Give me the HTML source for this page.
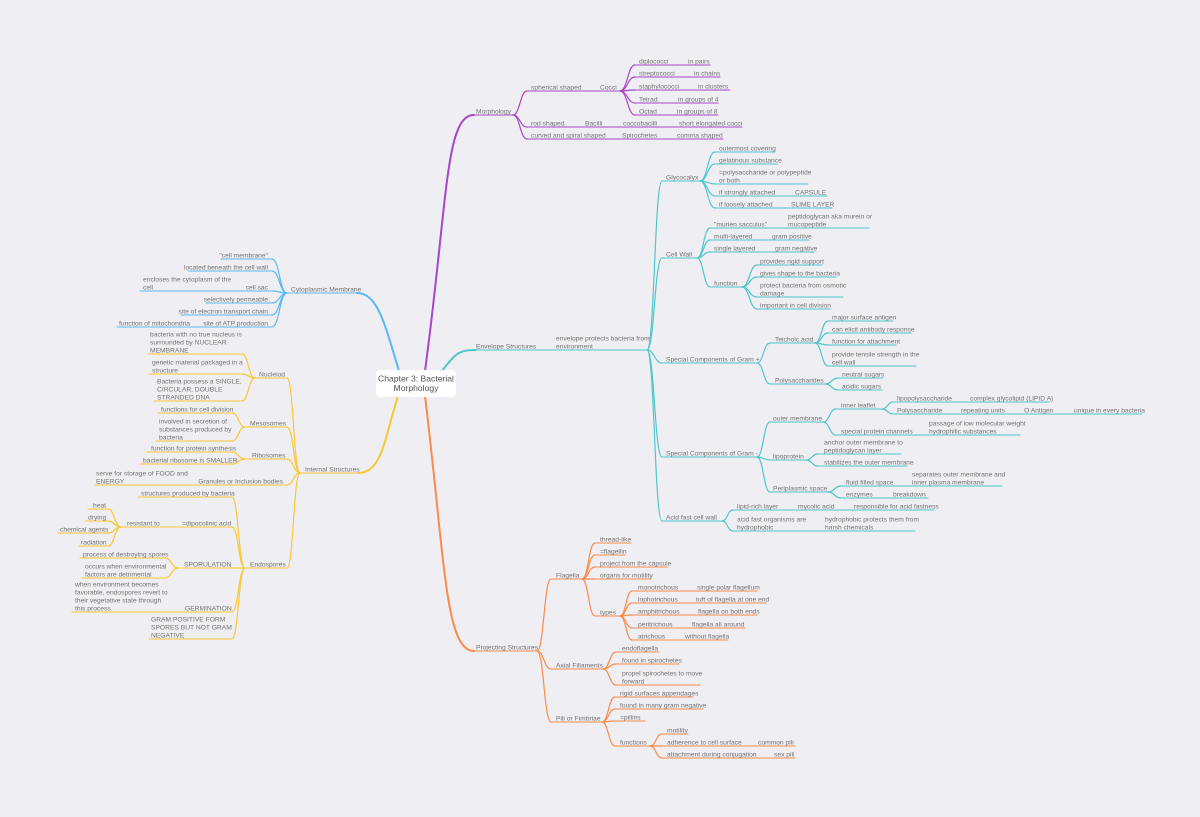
<!DOCTYPE html>
<html><head><meta charset="utf-8"><style>
html,body{margin:0;padding:0;background:#efeef3;}
svg{display:block}
text{font-family:"Liberation Sans",sans-serif;font-size:6.7px;fill:#737373}
.e{text-anchor:end}
</style></head><body>
<svg id="s" width="1200" height="817" viewBox="0 0 1200 817" xmlns="http://www.w3.org/2000/svg">
<rect width="1200" height="817" fill="#efeef3"/>
<g id="lines" fill="none" stroke-linecap="round"></g>
<rect x="376" y="370" width="80" height="27" rx="4" fill="#fff"/>
<text x="416" y="381.5" text-anchor="middle" style="font-size:8.6px;fill:#555">Chapter 3: Bacterial</text>
<text x="416" y="391" text-anchor="middle" style="font-size:8.6px;fill:#555">Morphology</text>
<g>
<!-- purple -->
<text x="476" y="113.5">Morphology</text>
<text x="531" y="89.5">spherical shaped</text><text x="600" y="89.5">Cocci</text>
<text x="639" y="63.5">diplococci</text><text x="688" y="63.5">in pairs</text>
<text x="639" y="75.5">streptococci</text><text x="694" y="75.5">in chains</text>
<text x="639" y="88.5">staphylococci</text><text x="698" y="88.5">in clusters</text>
<text x="639" y="101.5">Tetrad</text><text x="678" y="101.5">in groups of 4</text>
<text x="639" y="113.5">Octad</text><text x="677" y="113.5">in groups of 8</text>
<text x="531" y="125.5">rod shaped</text><text x="585" y="125.5">Bacilli</text><text x="623" y="125.5">coccobacilli</text><text x="679" y="125.5">short elongated cocci</text>
<text x="531" y="137.5">curved and spiral shaped</text><text x="622" y="137.5">Spirochetes</text><text x="677" y="137.5">comma shaped</text>
<!-- teal -->
<text x="476" y="348.5">Envelope Structures</text>
<text x="556" y="340.5">envelope protects bacteria from</text><text x="556" y="348.5">environment</text>
<text x="666" y="179.5">Glycocalyx</text>
<text x="719" y="150.5">outermost covering</text>
<text x="719" y="162.5">gelatinous substance</text>
<text x="719" y="174.5">=polysaccharide or polypeptide</text><text x="719" y="182.5">or both</text>
<text x="719" y="194.5">if strongly attached</text><text x="795" y="194.5">CAPSULE</text>
<text x="719" y="206.5">if loosely attached</text><text x="791" y="206.5">SLIME LAYER</text>
<text x="666" y="256.5">Cell Wall</text>
<text x="714" y="226.5">"murien sacculus"</text><text x="788" y="218.5">peptidoglycan aka murein or</text><text x="788" y="226.5">mucopeptide</text>
<text x="714" y="238.5">multi-layered</text><text x="772" y="238.5">gram positive</text>
<text x="714" y="250.5">single layered</text><text x="775" y="250.5">gram negative</text>
<text x="714" y="285.5">function</text>
<text x="760" y="263.5">provides rigid support</text>
<text x="760" y="275.5">gives shape to the bacteria</text>
<text x="760" y="287.5">protect bacteria from osmotic</text><text x="760" y="295.5">damage</text>
<text x="760" y="307.5">important in cell division</text>
<text x="666" y="361.5">Special Components of Gram +</text>
<text x="775" y="341.5">Teichoic acid</text>
<text x="832" y="319.5">major surface antigen</text>
<text x="832" y="331.5">can elicit antibody response</text>
<text x="832" y="343.5">function for attachment</text>
<text x="832" y="356.5">provide tensile strength in the</text><text x="832" y="364.5">cell wall</text>
<text x="775" y="382.5">Polysaccharides</text>
<text x="842" y="376.5">neutral sugars</text>
<text x="842" y="388.5">acidic sugars</text>
<text x="666" y="455.5">Special Components of Gram -</text>
<text x="773" y="420.5">outer membrane</text>
<text x="841" y="407.5">inner leaflet</text>
<text x="897" y="400.5">lipopolysaccharide</text><text x="970" y="400.5">complex glycolipid (LIPID A)</text>
<text x="897" y="412.5">Polysaccharide</text><text x="961" y="412.5">repeating units</text><text x="1024" y="412.5">O Antigen</text><text x="1074" y="412.5">unique in every bacteria</text>
<text x="841" y="433.5">special protein channels</text><text x="929" y="425.5">passage of low molecular weight</text><text x="929" y="433.5">hydrophilic substances</text>
<text x="773" y="458.5">lipoprotein</text>
<text x="824" y="444.5">anchor outer membrane to</text><text x="824" y="452.5">peptidoglycan layer</text>
<text x="824" y="464.5">stabilizes the outer membrane</text>
<text x="773" y="490.5">Periplasmic space</text>
<text x="846" y="484.5">fluid filled space</text><text x="912" y="476.5">separates outer membrane and</text><text x="912" y="484.5">inner plasma membrane</text>
<text x="846" y="496.5">enzymes</text><text x="893" y="496.5">breakdown</text>
<text x="666" y="519.5">Acid fast cell wall</text>
<text x="737" y="508.5">lipid-rich layer</text><text x="798" y="508.5">mycolic acid</text><text x="854" y="508.5">responsible for acid fastness</text>
<text x="737" y="521.5">acid fast organisms are</text><text x="737" y="529.5">hydrophobic</text><text x="825" y="521.5">hydrophobic protects them from</text><text x="825" y="529.5">harsh chemicals</text>
<!-- orange -->
<text x="476" y="649.5">Projecting Structures</text>
<text x="556" y="577.5">Flagella</text>
<text x="600" y="541.5">thread-like</text>
<text x="600" y="553.5">=flagellin</text>
<text x="600" y="565.5">project from the capsule</text>
<text x="600" y="577.5">organs for motility</text>
<text x="600" y="614.5">types</text>
<text x="638" y="589.5">monotrichous</text><text x="697" y="589.5">single polar flagellum</text>
<text x="638" y="601.5">lophotrichous</text><text x="696" y="601.5">tuft of flagella at one end</text>
<text x="638" y="613.5">amphitrichous</text><text x="698" y="613.5">flagella on both ends</text>
<text x="638" y="626.5">peritrichous</text><text x="692" y="626.5">flagella all around</text>
<text x="638" y="638.5">atrichous</text><text x="685" y="638.5">without flagella</text>
<text x="556" y="667.5">Axial Fillaments</text>
<text x="622" y="650.5">endoflagella</text>
<text x="622" y="662.5">found in spirochetes</text>
<text x="622" y="675.5">propel spirochetes to move</text><text x="622" y="683.5">forward</text>
<text x="556" y="720.5">Pili or Fimbriae</text>
<text x="620" y="695.5">rigid surfaces appendages</text>
<text x="620" y="707.5">found in many gram negative</text>
<text x="620" y="719.5">=pillins</text>
<text x="620" y="744.5">functions</text>
<text x="667" y="732.5">motility</text>
<text x="667" y="744.5">adherence to cell surface</text><text x="758" y="744.5">common pili</text>
<text x="667" y="756.5">attachment during conjugation</text><text x="774" y="756.5">sex pili</text>
<!-- blue -->
<text x="291" y="291.5">Cytoplasmic Membrane</text>
<text class="e" x="268" y="257.5">"cell membrane"</text>
<text class="e" x="268" y="269.5">located beneath the cell wall</text>
<text x="143" y="281.5">encloses the cytoplasm of the</text><text x="143" y="289.5">cell</text><text class="e" x="268" y="289.5">cell sac</text>
<text class="e" x="268" y="301.5">selectively permeable</text>
<text class="e" x="268" y="313.5">site of electron transport chain</text>
<text x="119" y="325.5">function of mitochondria</text><text class="e" x="268" y="325.5">site of ATP production</text>
<!-- yellow -->
<text x="305" y="471.5">Internal Structures</text>
<text x="259" y="376.5">Nucleiod</text>
<text x="150" y="336.5">bacteria with no true nucleus is</text><text x="150" y="344.5">surrounded by NUCLEAR</text><text x="150" y="352.5">MEMBRANE</text>
<text x="152" y="364.5">genetic material packaged in a</text><text x="152" y="372.5">structure</text>
<text x="157" y="383.5">Bacteria possess a SINGLE,</text><text x="157" y="391.5">CIRCULAR, DOUBLE</text><text x="157" y="399.5">STRANDED DNA</text>
<text x="250" y="425.5">Mesosomes</text>
<text x="161" y="411.5">functions for cell division</text>
<text x="159" y="423.5">involved in secretion of</text><text x="159" y="431.5">substances produced by</text><text x="159" y="439.5">bacteria</text>
<text x="252" y="457.5">Ribosomes</text>
<text x="151" y="450.5">function for protein synthesis</text>
<text x="143" y="462.5">bacterial ribosome is SMALLER</text>
<text x="96" y="475.5">serve for storage of FOOD and</text><text x="96" y="483.5">ENERGY</text><text class="e" x="283" y="483.5">Granules or Inclusion bodies</text>
<text x="250" y="566.5">Endospores</text>
<text x="141" y="495.5">structures produced by bacteria</text>
<text x="127" y="525.5">resistant to</text><text x="182" y="525.5">=dipocolinic acid</text>
<text x="93" y="507.5">heat</text>
<text x="88" y="519.5">drying</text>
<text x="60" y="531.5">chemical agents</text>
<text x="81" y="544.5">radiation</text>
<text x="184" y="566.5">SPORULATION</text>
<text x="83" y="556.5">process of destroying spores</text>
<text x="85" y="568.5">occurs when environmental</text><text x="85" y="576.5">factors are detrimental</text>
<text x="75" y="586.5">when environment becomes</text><text x="75" y="594.5">favorable, endospores revert to</text><text x="75" y="602.5">their vegetative state through</text><text x="75" y="610.5">this process</text><text x="185" y="610.5">GERMINATION</text>
<text x="151" y="621.5">GRAM POSITIVE FORM</text><text x="151" y="629.5">SPORES BUT NOT GRAM</text><text x="151" y="637.5">NEGATIVE</text>
</g>
</svg>
<script>
var g=document.getElementById('lines'),NS='http://www.w3.org/2000/svg';
function P(d,c,w){var p=document.createElementNS(NS,'path');p.setAttribute('d',d);p.setAttribute('stroke',c);p.setAttribute('stroke-width',w);g.appendChild(p);}
function U(x1,x2,y,c){P('M'+x1+' '+y+'H'+x2,c,1.1);}
function C(xa,ya,xb,yb,c,w){var m=xa+(xb-xa)*0.5;P('M'+xa+' '+ya+'C'+m+' '+ya+' '+m+' '+yb+' '+xb+' '+yb,c,w||1.2);}
function R(hx,hy,sx,list,c){list.forEach(function(a){C(hx,hy,sx,a[0],c);U(sx,a[1],a[0],c);});}
function L(hx,hy,ex,list,c){list.forEach(function(a){C(hx,hy,ex,a[0],c);U(a[1],ex,a[0],c);});}
var Pu='#a845c9',T='#4fc7cc',O='#f98c4a',B='#5bb9f5',Y='#fac733';
P('M425 371C448 200 445 115 474 115',Pu,2);U(474,513,115,Pu);
R(513,115,527,[[91,620],[127,742],[139,723]],Pu);
R(620,91,635,[[65,710],[77,720],[90,730],[103,718],[115,718]],Pu);
P('M442 371C456 352 460 350 476 350',T,2);U(474,647,350,T);
R(647,350,662,[[181,700],[258,697],[363,757],[457,757],[521,722]],T);
R(700,181,715,[[152,775],[164,777],[184,808],[196,827],[208,832]],T);
R(697,258,710,[[228,869],[240,809],[252,814],[287,742]],T);
R(742,287,757,[[265,822],[277,836],[297,843],[309,830]],T);
R(757,363,770,[[343,815],[384,825]],T);
R(815,343,828,[[321,893],[333,911],[345,896],[366,916]],T);
R(825,384,838,[[378,883],[390,882]],T);
R(757,457,770,[[422,823],[460,806],[492,828]],T);
R(823,422,836,[[409,882],[435,1020]],T);
R(882,409,893,[[402,1049],[414,1142]],T);
R(806,460,818,[[454,901],[466,907]],T);
R(828,492,841,[[486,1002],[498,928]],T);
R(722,521,733,[[510,934],[531,915]],T);
P('M425 396C445 560 445 651 474 651',O,2);U(474,537,651,O);
R(537,651,551,[[579,582],[669,603],[722,602]],O);
R(582,579,595,[[543,631],[555,625],[567,668],[579,651],[616,620]],O);
R(620,616,632,[[591,757],[603,766],[615,757],[628,745],[640,728]],O);
R(603,669,616,[[652,659],[664,679],[685,700]],O);
R(602,722,615,[[697,693],[709,703],[721,645],[746,650]],O);
R(650,746,662,[[734,688],[746,795],[758,795]],O);
P('M399 371C385 325 378 293 357 293',B,2);U(287,357,293,B);
L(287,293,272,[[259,221],[271,188],[291,140],[303,206],[315,181],[327,117]],B);
P('M398 396C384 440 382 473 358 473',Y,2);U(300,358,473,Y);
L(300,473,287,[[378,255],[427,245],[459,245],[485,95],[568,245]],Y);
L(255,378,242,[[354,148],[374,149],[401,154]],Y);
L(245,427,232,[[413,158],[441,156]],Y);
L(245,459,232,[[452,147],[464,140]],Y);
L(245,568,232,[[497,138],[527,120],[568,178],[612,72],[639,149]],Y);
L(121,527,108,[[509,88],[521,85],[533,58],[546,79]],Y);
L(178,568,165,[[558,80],[578,82]],Y);
</script>
</body></html>
